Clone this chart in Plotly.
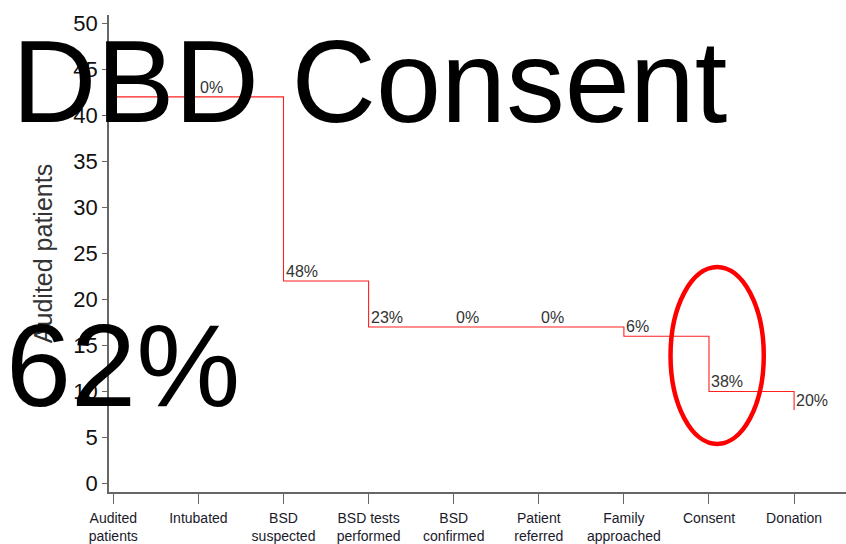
import plotly.graph_objects as go

# Donor pathway: number of audited patients remaining at each stage
stages = ["Audited<br>patients", "Intubated", "BSD<br>suspected", "BSD tests<br>performed",
          "BSD<br>confirmed", "Patient<br>referred", "Family<br>approached", "Consent", "Donation"]
patients = [42, 42, 22, 17, 17, 17, 16, 10, 8]
y_ticks = [0, 5, 10, 15, 20, 25, 30, 35, 40, 45, 50]

headline = "DBD Consent"
headline_rate = "62%"

FONT = "Liberation Sans, Arial, sans-serif"
x_pos = list(range(len(stages)))

fig = go.Figure()
fig.add_trace(go.Scatter(
    x=x_pos, y=patients, mode="lines", line_shape="hv",
    line=dict(color="#ff2020", width=1.1), hoverinfo="skip", showlegend=False,
))

# Percentage lost at each step, labelled just above the new level
annotations = []
for i in range(1, len(patients)):
    prev, cur = patients[i - 1], patients[i]
    pct = round(100 * (prev - cur) / prev)
    annotations.append(dict(
        x=i, y=cur, xref="x", yref="y", text=f"{pct}%", showarrow=False,
        xanchor="left", yanchor="bottom", xshift=0, yshift=-1,
        font=dict(family=FONT, size=16, color="#333333"),
    ))

# Large overlaid headline text
annotations.append(dict(
    x=-0.135, y=0.86, xref="paper", yref="paper", text=headline, showarrow=False,
    xanchor="left", yanchor="middle",
    font=dict(family=FONT, size=117, color="#000000"),
))
annotations.append(dict(
    x=-0.142, y=0.265, xref="paper", yref="paper", text=headline_rate, showarrow=False,
    xanchor="left", yanchor="middle",
    font=dict(family=FONT, size=117, color="#000000"),
))

# Red ellipse highlighting the consent step
fig.add_shape(type="circle", xref="x", yref="y",
              x0=6.548, x1=7.644, y0=4.29, y1=23.53,
              line=dict(color="#ff0000", width=4.5))

fig.update_layout(
    width=846, height=544,
    margin=dict(l=109, r=0, t=15, b=52),
    paper_bgcolor="white", plot_bgcolor="white",
    font=dict(family=FONT, color="#222222"),
    annotations=annotations,
    showlegend=False,
)
fig.update_xaxes(
    range=[-0.0505, 8.61], tickvals=x_pos, ticktext=stages,
    showgrid=False, zeroline=False, showline=True, linecolor="#666666", linewidth=1.6,
    ticks="outside", ticklen=10, tickwidth=1.4, tickcolor="#666666",
    ticklabelstandoff=2,
    tickfont=dict(family=FONT, size=14, color="#1a1a2a"),
)
fig.update_yaxes(
    range=[-0.92, 50.9], tickvals=y_ticks,
    showgrid=False, zeroline=False, showline=True, linecolor="#666666", linewidth=1.6,
    ticks="outside", ticklen=5, tickwidth=1.4, tickcolor="#666666",
    tickfont=dict(family=FONT, size=22, color="#111111"),
    title=dict(text="Audited patients", standoff=14,
               font=dict(family=FONT, size=25, color="#333333")),
)

fig.write_html("out.html")
